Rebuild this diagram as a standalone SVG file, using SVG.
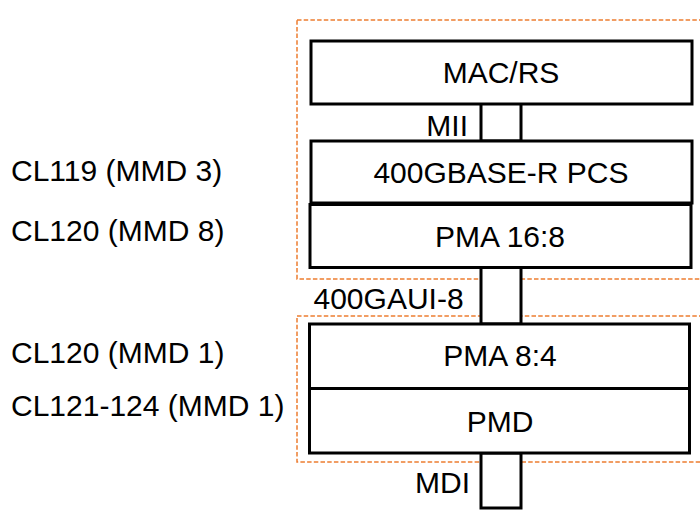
<svg xmlns="http://www.w3.org/2000/svg" width="700" height="510" viewBox="0 0 700 510">
  <style>
    .layer { fill: #ffffff; stroke: #000000; stroke-width: 3; }
    .group { fill: none; stroke: #ED7D31; stroke-width: 1.5; stroke-dasharray: 4.5 2.2; }
    .port { fill: #ffffff; stroke: #000000; stroke-width: 3; }
    text { font-family: "Liberation Sans", Arial, sans-serif; font-size: 30px; fill: #000000; }
    .c { text-anchor: middle; }
    .r { text-anchor: end; }
  </style>
  <rect width="700" height="510" fill="#ffffff"/>

  <!-- sublayer groupings -->
  <g id="groups">
    <rect class="group" x="297" y="20" width="410" height="259"/>
    <rect class="group" x="297" y="316" width="410" height="146"/>
  </g>

  <!-- clause labels -->
  <g id="clauses">
    <text x="11" y="181">CL119 (MMD 3)</text>
    <text x="11" y="241">CL120 (MMD 8)</text>
    <text x="11" y="363">CL120 (MMD 1)</text>
    <text x="11" y="416">CL121-124 (MMD 1)</text>
  </g>

  <!-- interfaces between sublayers -->
  <g id="connectors">
    <rect class="port" x="481" y="103" width="40" height="38"/>
    <rect class="port" x="481" y="267" width="40" height="57"/>
    <rect class="port" x="481" y="453" width="40" height="55"/>
    <text class="r" x="468" y="136">MII</text>
    <text x="313.5" y="309">400GAUI-8</text>
    <text class="r" x="470" y="493">MDI</text>
  </g>

  <g id="mac-rs">
    <rect class="layer" x="311" y="41" width="381" height="63"/>
    <text class="c" x="501" y="83">MAC/RS</text>
  </g>
  <g id="pcs">
    <rect class="layer" x="311" y="141" width="381" height="62"/>
    <text class="c" x="501" y="182.5">400GBASE-R PCS</text>
  </g>
  <g id="pma-16-8">
    <rect class="layer" x="310" y="204.5" width="381" height="63"/>
    <text class="c" x="500" y="246.5">PMA 16:8</text>
  </g>
  <g id="pma-8-4">
    <rect class="layer" x="309.5" y="324" width="380" height="64.5"/>
    <text class="c" x="500" y="366">PMA 8:4</text>
  </g>
  <g id="pmd">
    <rect class="layer" x="309.5" y="388.5" width="380" height="64.5"/>
    <text class="c" x="500" y="431.5">PMD</text>
  </g>
</svg>
